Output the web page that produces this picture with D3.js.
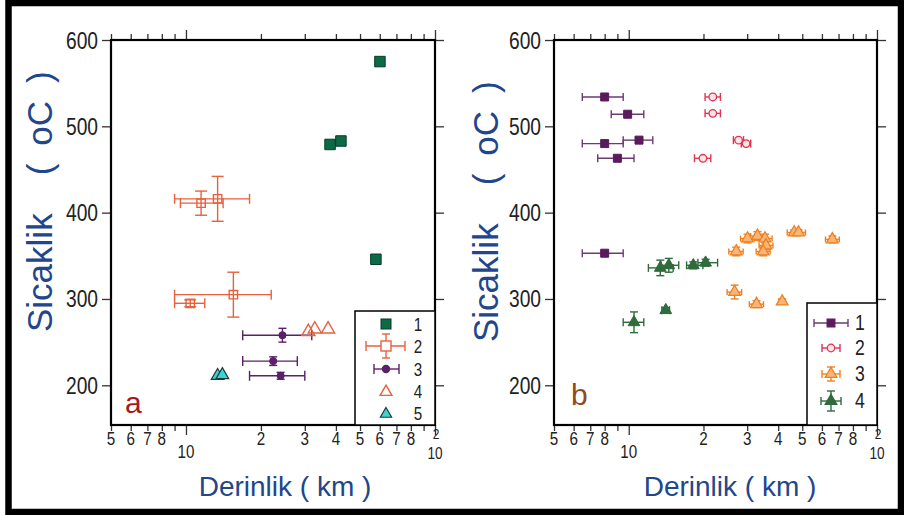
<!DOCTYPE html>
<html>
<head>
<meta charset="utf-8">
<script src="https://cdn.jsdelivr.net/npm/d3@7"></script>
<style>
body{margin:0;background:#fff;}
svg text{font-family:"Liberation Sans",Arial,sans-serif;}
</style>
</head>
<body>
<svg id="chart" width="904" height="515"></svg>
<script>
// panel a
var a1Depth = [60.1, 37.9, 41.9, 57.9];
var a1Temp  = [575, 479, 483, 346];
var a2Depth = [11.5, 13.4, 10.4, 15.5];
var a2Temp  = [411, 416, 295, 305];
var a2Lo    = [9.5, 9.0, 9.0, 9.0];
var a2Hi    = [14.1, 18.0, 11.9, 22.0];
var a2Err   = [14, 26, 4, 26];
var a3Depth = [24.4, 22.4, 24.0];
var a3Temp  = [258, 228, 211];
var a3Lo    = [16.9, 16.9, 18.0];
var a3Hi    = [32.0, 28.0, 30.0];
var a3Err   = [8, 5, 4];
var a4Depth = [31.0, 32.9, 37.2];
var a4Temp  = [262, 265, 265];
var a5Depth = [13.4, 14.0];
var a5Temp  = [211, 212];

// panel b
var b1Depth = [8.0, 9.9, 11.0, 8.0, 9.0, 8.0];
var b1Temp  = [534, 514, 484, 480, 463, 353];
var b1Lo    = [6.5, 8.5, 9.5, 6.5, 7.5, 6.5];
var b1Hi    = [9.5, 11.5, 12.5, 9.5, 10.5, 9.5];
var b2Depth = [21.8, 21.8, 27.7, 29.7, 19.9];
var b2Temp  = [534, 515, 484, 480, 463];
var b2Lo    = [20.3, 20.3, 26.4, 28.4, 18.4];
var b2Hi    = [23.4, 23.4, 29.0, 31.0, 21.4];
var b3Depth = [27.1, 30.1, 33.0, 35.4, 35.7, 34.8, 46.4, 48.3, 66.1, 26.7, 32.7, 41.5];
var b3Temp  = [355, 370, 373, 370, 362, 355, 377, 377, 369, 308, 294, 297];
var b3Lo    = [25.3, 28.2, 30.9, 33.2, 33.5, 32.6, 43.5, 45.3, 62.0, 24.9, 30.6, 40.3];
var b3Hi    = [28.9, 32.1, 35.2, 37.8, 38.1, 37.1, 49.5, 51.5, 70.5, 28.5, 34.9, 42.7];
var b3Err   = [5, 5, 5, 5, 5, 5, 3, 3, 4, 8, 4, 3];
var b4Depth = [13.4, 14.5, 18.2, 20.4, 14.1, 10.5];
var b4Temp  = [336, 339, 339, 342, 287, 273];
var b4Lo    = [12.0, 13.5, 17.1, 19.0, 13.6, 9.5];
var b4Hi    = [15.1, 15.9, 19.9, 22.8, 14.6, 11.5];
var b4Err   = [9, 8, 4, 4, 3, 12];

var yTicks = [200, 300, 400, 500, 600];
var xTicks = [5, 6, 7, 8, 9, 10, 20, 30, 40, 50, 60, 70, 80, 90, 100];
var xLabelVals = [5, 6, 7, 8, 10, 20, 30, 40, 50, 60, 70, 80];
var xLabelText = ["5", "6", "7", "8", "10", "2", "3", "4", "5", "6", "7", "8"];

var svg = d3.select("#chart");
var blue = "#21468c";
var narrow = 0.8;   // no Arial Narrow here, squeeze the digits instead

svg.append("rect")
   .attr("x", 8.5).attr("y", 3)
   .attr("width", 892.5).attr("height", 509)
   .attr("fill", "none").attr("stroke", "#000").attr("stroke-width", 6.5);

function rows(depth, temp, lo, hi, err){
	return depth.map(function(d, i){
		return {d: d, t: temp[i],
		        lo: lo ? lo[i] : null, hi: hi ? hi[i] : null,
		        e: err ? err[i] : null};
	});
}

function drawPanel(left, right, yTitleX, yTitleY, xTitleX){
	var x = d3.scaleLog().domain([5, 100]).range([left, right]);
	var y = d3.scaleLinear().domain([154, 600]).range([425, 40]);
	var g = svg.append("g");

	// ticks, all pointing out of the frame
	var bottom = g.append("g").attr("transform", "translate(0,425)")
	   .call(d3.axisBottom(x).tickValues(xTicks).tickFormat("").tickSizeOuter(0).tickSize(6));
	var top = g.append("g").attr("transform", "translate(0,40)")
	   .call(d3.axisTop(x).tickValues(xTicks).tickFormat("").tickSizeOuter(0).tickSize(6));
	[bottom, top].forEach(function(ax){
		ax.select(".domain").remove();
		ax.selectAll(".tick line")
		  .attr("y2", function(d){ 
		  	var s = (d == 10 || d == 100) ? 10 : 6;
		  	return ax === top ? -s : s; 
		  });
	});
	var yl = g.append("g").attr("transform", "translate(" + left + ",0)")
	   .call(d3.axisLeft(y).tickValues(yTicks).tickFormat("").tickSize(9).tickSizeOuter(0));
	var yr = g.append("g").attr("transform", "translate(" + right + ",0)")
	   .call(d3.axisRight(y).tickValues(yTicks).tickFormat("").tickSize(9).tickSizeOuter(0));
	yl.select(".domain").remove();
	yr.select(".domain").remove();
	g.selectAll(".tick line").attr("stroke-width", 1.3).attr("stroke", "#333");

	g.append("rect")
	 .attr("x", left).attr("y", 40)
	 .attr("width", right - left).attr("height", 385)
	 .attr("fill", "none").attr("stroke", "#000").attr("stroke-width", 2.2);

	g.selectAll(".ylab").data(yTicks).enter()
	 .append("text")
	 .attr("transform", function(d){ return "translate(" + (left - 13) + "," + (y(d) + 8.5) + ") scale(" + narrow + ",1)"; })
	 .attr("text-anchor", "end")
	 .attr("font-size", "24px")
	 .attr("fill", "#222")
	 .text(function(d){ return d; });

	g.selectAll(".xlab").data(xLabelVals).enter()
	 .append("text")
	 .attr("transform", function(d){ return "translate(" + x(d) + "," + ((d == 10) ? 458 : 445) + ") scale(" + narrow + ",1)"; })
	 .attr("text-anchor", "middle")
	 .attr("font-size", "19px")
	 .attr("fill", "#222")
	 .text(function(d, i){ return xLabelText[i]; });
	// 10^2 written as a "2" sitting over a "10"
	g.append("text")
	 .attr("transform", "translate(" + (x(100) + 1) + ",439) scale(" + narrow + ",1)")
	 .attr("text-anchor", "middle")
	 .attr("font-size", "15px")
	 .attr("fill", "#222")
	 .text("2");
	g.append("text")
	 .attr("transform", "translate(" + x(100) + ",459) scale(" + narrow + ",1)")
	 .attr("text-anchor", "middle")
	 .attr("font-size", "17px")
	 .attr("fill", "#222")
	 .text("10");

	// axis titles
	var yt = g.append("text")
	 .attr("transform", "translate(" + yTitleX + "," + yTitleY + ") rotate(-90)")
	 .attr("font-size", "35px")
	 .attr("fill", blue);
	yt.append("tspan").text("Sicaklik");
	yt.append("tspan").attr("dx", 38).text("(");
	yt.append("tspan").attr("dx", 18).text("oC");
	yt.append("tspan").attr("dx", 18).text(")");

	g.append("text")
	 .attr("x", xTitleX).attr("y", 496)
	 .attr("text-anchor", "middle")
	 .attr("font-size", "28px")
	 .attr("fill", blue)
	 .text("Derinlik ( km )");

	return {x: x, y: y, g: g};
}

function errBars(g, x, y, data, color, capX, capY){
	var eb = g.append("g").attr("stroke", color).attr("stroke-width", 1.4).attr("fill", "none");
	data.forEach(function(p){
		var cx = x(p.d), cy = y(p.t);
		if(p.lo != null){
			eb.append("line").attr("x1", x(p.lo)).attr("x2", x(p.hi)).attr("y1", cy).attr("y2", cy);
			eb.append("line").attr("x1", x(p.lo)).attr("x2", x(p.lo)).attr("y1", cy - capX).attr("y2", cy + capX);
			eb.append("line").attr("x1", x(p.hi)).attr("x2", x(p.hi)).attr("y1", cy - capX).attr("y2", cy + capX);
		}
		if(p.e != null){
			eb.append("line").attr("x1", cx).attr("x2", cx).attr("y1", y(p.t - p.e)).attr("y2", y(p.t + p.e));
			eb.append("line").attr("x1", cx - capY).attr("x2", cx + capY).attr("y1", y(p.t - p.e)).attr("y2", y(p.t - p.e));
			eb.append("line").attr("x1", cx - capY).attr("x2", cx + capY).attr("y1", y(p.t + p.e)).attr("y2", y(p.t + p.e));
		}
	});
}

function marks(g, x, y, data, type, size, fill, stroke, sw){
	g.selectAll(null).data(data).enter()
	 .append("path")
	 .attr("d", d3.symbol().type(type).size(size))
	 .attr("transform", function(p){ return "translate(" + x(p.d) + "," + y(p.t) + ")"; })
	 .attr("fill", fill)
	 .attr("stroke", stroke)
	 .attr("stroke-width", sw);
}

function legendNums(g, x, ys, labels, size){
	g.selectAll(null).data(labels).enter()
	 .append("text")
	 .attr("transform", function(d, i){ return "translate(" + x + "," + (ys[i] + 7) + ") scale(" + narrow + ",1)"; })
	 .attr("text-anchor", "middle").attr("font-size", size).attr("fill", "#222")
	 .text(function(d){ return d; });
}

// ---- panel a ----
var pa = drawPanel(111, 435, 52, 332, 285);
var a1 = rows(a1Depth, a1Temp), a2 = rows(a2Depth, a2Temp, a2Lo, a2Hi, a2Err),
    a3 = rows(a3Depth, a3Temp, a3Lo, a3Hi, a3Err), a4 = rows(a4Depth, a4Temp),
    a5 = rows(a5Depth, a5Temp);
var colA1 = "#0c6b47", colA2 = "#e8613c", colA3 = "#5c1f69", colA5 = "#3fd3d0";

errBars(pa.g, pa.x, pa.y, a2, colA2, 5, 6);
marks(pa.g, pa.x, pa.y, a2, d3.symbolSquare, 70, "none", colA2, 1.4);
errBars(pa.g, pa.x, pa.y, a3, colA3, 5, 4);
marks(pa.g, pa.x, pa.y, a3, d3.symbolCircle, 40, colA3, colA3, 1);
marks(pa.g, pa.x, pa.y, a4, d3.symbolTriangle, 75, "none", colA2, 1.4);
marks(pa.g, pa.x, pa.y, a5, d3.symbolTriangle, 70, colA5, "#1d3b3b", 1.2);
marks(pa.g, pa.x, pa.y, a1, d3.symbolSquare, 110, colA1, "#063a26", 1);

pa.g.append("text").attr("x", 125).attr("y", 413)
    .attr("font-size", "30px").attr("fill", "#a3191f").text("a");

// legend a
var lga = pa.g.append("g");
lga.append("rect").attr("x", 355).attr("y", 311).attr("width", 80).attr("height", 114)
   .attr("fill", "#fff").attr("stroke", "#000").attr("stroke-width", 1.5);
var lgaY = [324, 346, 369, 391, 413];
lga.append("rect").attr("x", 381).attr("y", 319).attr("width", 10).attr("height", 10)
   .attr("fill", colA1).attr("stroke", "#063a26");
var e2 = lga.append("g").attr("stroke", colA2).attr("stroke-width", 1.4).attr("fill", "none");
e2.append("line").attr("x1", 366).attr("x2", 405).attr("y1", 346).attr("y2", 346);
e2.append("line").attr("x1", 366).attr("x2", 366).attr("y1", 341).attr("y2", 351);
e2.append("line").attr("x1", 405).attr("x2", 405).attr("y1", 341).attr("y2", 351);
e2.append("line").attr("x1", 386).attr("x2", 386).attr("y1", 334).attr("y2", 358);
e2.append("line").attr("x1", 382).attr("x2", 390).attr("y1", 334).attr("y2", 334);
e2.append("line").attr("x1", 382).attr("x2", 390).attr("y1", 358).attr("y2", 358);
e2.append("rect").attr("x", 381).attr("y", 341).attr("width", 10).attr("height", 10).attr("fill", "#fff");
var e3 = lga.append("g").attr("stroke", colA3).attr("stroke-width", 1.4);
e3.append("line").attr("x1", 374).attr("x2", 399).attr("y1", 369).attr("y2", 369);
e3.append("line").attr("x1", 374).attr("x2", 374).attr("y1", 364).attr("y2", 374);
e3.append("line").attr("x1", 399).attr("x2", 399).attr("y1", 364).attr("y2", 374);
e3.append("circle").attr("cx", 386).attr("cy", 369).attr("r", 3.5).attr("fill", colA3);
lga.append("path").attr("d", d3.symbol().type(d3.symbolTriangle).size(60))
   .attr("transform", "translate(386,392)").attr("fill", "none").attr("stroke", colA2).attr("stroke-width", 1.4);
lga.append("path").attr("d", d3.symbol().type(d3.symbolTriangle).size(55))
   .attr("transform", "translate(386,414)").attr("fill", colA5).attr("stroke", "#1d3b3b").attr("stroke-width", 1.2);
legendNums(lga, 418, lgaY, ["1", "2", "3", "4", "5"], "19px");

// ---- panel b ----
var pb = drawPanel(554, 877, 498, 342, 730);
var b1 = rows(b1Depth, b1Temp, b1Lo, b1Hi), b2 = rows(b2Depth, b2Temp, b2Lo, b2Hi),
    b3 = rows(b3Depth, b3Temp, b3Lo, b3Hi, b3Err), b4 = rows(b4Depth, b4Temp, b4Lo, b4Hi, b4Err);
var colB1 = "#5a1a5c", colB2 = "#e0334f", colB3 = "#f0801f", colB4 = "#2f6b3c";

errBars(pb.g, pb.x, pb.y, b1, "#6e3a72", 4, 4);
marks(pb.g, pb.x, pb.y, b1, d3.symbolSquare, 64, colB1, colB1, 1);
errBars(pb.g, pb.x, pb.y, b2, colB2, 4, 4);
marks(pb.g, pb.x, pb.y, b2, d3.symbolCircle, 45, "#fbe3e6", colB2, 1.3);
errBars(pb.g, pb.x, pb.y, b3, colB3, 3, 4);
marks(pb.g, pb.x, pb.y, b3, d3.symbolTriangle, 60, "#f7b57a", colB3, 1.3);
errBars(pb.g, pb.x, pb.y, b4, colB4, 4, 4);
marks(pb.g, pb.x, pb.y, b4, d3.symbolTriangle, 60, colB4, colB4, 1);

pb.g.append("text").attr("x", 571).attr("y", 405)
    .attr("font-size", "30px").attr("fill", "#8f4a24").text("b");

// legend b
var lgb = pb.g.append("g");
lgb.append("rect").attr("x", 807).attr("y", 303).attr("width", 70).attr("height", 122)
   .attr("fill", "#fff").attr("stroke", "#000").attr("stroke-width", 1.5);
var lgbY = [323, 348, 374, 401];
var lgbCol = [colB1, colB2, colB3, colB4];
var lgbW = [17, 9, 9, 10];
var lgbE = [0, 0, 7, 10];
lgbY.forEach(function(cy, i){
	var gg = lgb.append("g").attr("stroke", i == 0 ? "#6e3a72" : lgbCol[i]).attr("stroke-width", 1.4);
	gg.append("line").attr("x1", 831 - lgbW[i]).attr("x2", 831 + lgbW[i]).attr("y1", cy).attr("y2", cy);
	gg.append("line").attr("x1", 831 - lgbW[i]).attr("x2", 831 - lgbW[i]).attr("y1", cy - 4).attr("y2", cy + 4);
	gg.append("line").attr("x1", 831 + lgbW[i]).attr("x2", 831 + lgbW[i]).attr("y1", cy - 4).attr("y2", cy + 4);
	if(lgbE[i]){
		gg.append("line").attr("x1", 831).attr("x2", 831).attr("y1", cy - lgbE[i]).attr("y2", cy + lgbE[i]);
		gg.append("line").attr("x1", 827).attr("x2", 835).attr("y1", cy - lgbE[i]).attr("y2", cy - lgbE[i]);
		gg.append("line").attr("x1", 827).attr("x2", 835).attr("y1", cy + lgbE[i]).attr("y2", cy + lgbE[i]);
	}
});
var lgbSym = [d3.symbolSquare, d3.symbolCircle, d3.symbolTriangle, d3.symbolTriangle];
var lgbFill = [colB1, "#fbe3e6", "#f7b57a", colB4];
lgbY.forEach(function(cy, i){
	lgb.append("path").attr("d", d3.symbol().type(lgbSym[i]).size(i == 1 ? 45 : 60))
	   .attr("transform", "translate(831," + cy + ")")
	   .attr("fill", lgbFill[i]).attr("stroke", lgbCol[i]).attr("stroke-width", 1.2);
});
legendNums(lgb, 860, lgbY, ["1", "2", "3", "4"], "22px");
</script>
</body>
</html>
